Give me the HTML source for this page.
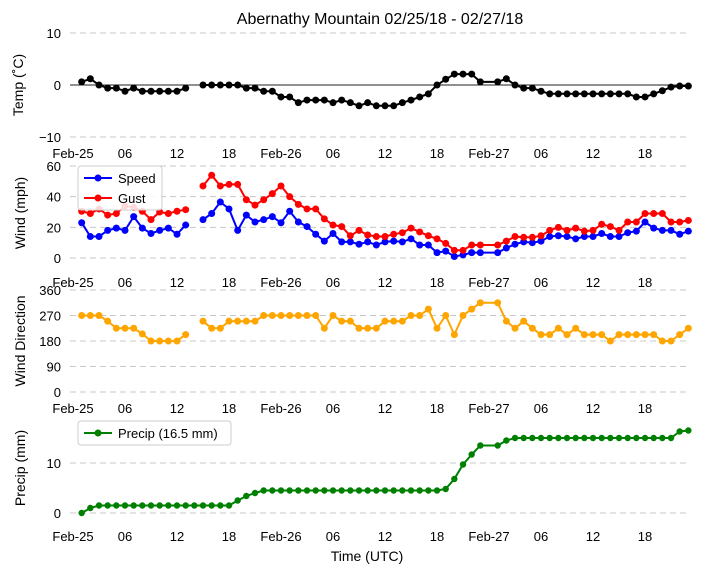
<!DOCTYPE html>
<html><head><meta charset="utf-8"><style>
body{margin:0;background:#fff;}
svg{display:block;font-family:"Liberation Sans","DejaVu Sans",sans-serif;}
</style></head><body>
<svg id="chart" width="704" height="573" viewBox="0 0 704 573" xmlns="http://www.w3.org/2000/svg">
<text x="380" y="24" font-size="16" text-anchor="middle">Abernathy Mountain 02/25/18 - 02/27/18</text>
<text x="367" y="561" font-size="14" text-anchor="middle">Time (UTC)</text>
<text transform="translate(23,85) rotate(-90)" font-size="14" text-anchor="middle">Temp (˚C)</text>
<text transform="translate(25,213) rotate(-90)" font-size="14" text-anchor="middle">Wind (mph)</text>
<text transform="translate(25,341) rotate(-90)" font-size="14" text-anchor="middle">Wind Direction</text>
<text transform="translate(25,468) rotate(-90)" font-size="14" text-anchor="middle">Precip (mm)</text>
<g id="plots"></g>
</svg>
<script>
const hours = [1,2,3,4,5,6,7,8,9,10,11,12,13,14,15,16,17,18,19,20,21,22,23,24,25,26,27,28,29,30,31,32,33,34,35,36,37,38,39,40,41,42,43,44,45,46,47,49,50,51,52,53,54,55,56,57,58,59,60,61,62,63,64,65,66,67,68,69,70,71];
const temp = [0.6,1.2,0,-0.6,-0.6,-1.2,-0.6,-1.2,-1.2,-1.2,-1.2,-1.2,-0.6,null,0,0,0,0,0,-0.6,-0.6,-1.2,-1.2,-2.3,-2.3,-3.4,-2.9,-2.9,-2.9,-3.4,-2.9,-3.4,-4,-3.4,-4,-4,-4,-3.4,-2.9,-2.3,-1.7,0,1.1,2.1,2.1,2.1,0.6,0.6,1.2,0,-0.6,-0.6,-1.2,-1.7,-1.7,-1.7,-1.7,-1.7,-1.7,-1.7,-1.7,-1.7,-1.7,-2.3,-2.3,-1.7,-1.1,-0.4,-0.2,-0.2];
const speed = [23,14,14,18,19.5,18,27,19.5,16,18,19.5,15.5,21.5,null,25,29,36.5,32,18,28,23.5,25,27,23,30.5,23.5,20.5,15.5,11,16,10.5,10.5,9,10.5,8.5,10.5,11,10.5,12.5,8.5,8.5,3.5,4.5,1,2,3.5,3.5,3.5,6.5,9,10.5,10,11,14,14.5,14,12.5,14,14,16,14,14,16.5,17.5,23.5,19.5,18,18,15.5,17.5];
const gust = [30.5,29,32,28,29,34,33,30.5,25,30,29,30.5,31.5,null,47,54,47,48,48,38,34.5,38,42,47,40,35,32,32,25.5,21.5,20.5,14.5,18,15,14,14,15.5,16.5,19.5,17,14.5,12.5,9.5,5,5,8.5,8.5,8.5,11,14,13.5,13.5,14.5,18,20,18,19.5,17.5,18,22,20.5,18,23.5,23.5,29,29,29,23.5,23.5,24.5];
const direction = [270,270,270,250,225,225,225,205,180,180,180,180,202.5,null,250,225,225,250,250,250,250,270,270,270,270,270,270,270,225,270,250,250,225,225,225,250,250,250,270,270,292.5,225,270,202.5,270,292.5,315,315,250,225,250,225,202.5,202.5,225,202.5,225,202.5,202.5,202.5,180,202.5,202.5,202.5,202.5,202.5,180,180,202.5,225];
const precip = [0,1,1.5,1.5,1.5,1.5,1.5,1.5,1.5,1.5,1.5,1.5,1.5,1.5,1.5,1.5,1.5,1.5,2.5,3.4,4,4.5,4.5,4.5,4.5,4.5,4.5,4.5,4.5,4.5,4.5,4.5,4.5,4.5,4.5,4.5,4.5,4.5,4.5,4.5,4.5,4.5,4.8,6.8,9.7,11.7,13.5,13.5,14.5,15,15,15,15,15,15,15,15,15,15,15,15,15,15,15,15,15,15,15,16.3,16.5];
const tickHours = [0,6,12,18,24,30,36,42,48,54,60,66];
const tickLabels = ["Feb-25","06","12","18","Feb-26","06","12","18","Feb-27","06","12","18"];
const tempTicks = [10,0,-10];
const windTicks = [0,20,40,60];
const dirTicks = [0,90,180,270,360];
const precipTicks = [0,10];

const NS = "http://www.w3.org/2000/svg";
const root = document.getElementById('plots');
const X0 = 73, PXH = 8.667, XL = 70, XR = 690;
function xs(h){ return X0 + h*PXH; }
function mk(tag, attrs, parent){
  const e = document.createElementNS(NS, tag);
  for (const k in attrs) e.setAttribute(k, attrs[k]);
  (parent||root).appendChild(e); return e;
}
function panel(name, ticks, yScale, labelY, zeroLine){
  const g = mk('g', {});
  
  
  ticks.forEach(t => {
    const y = yScale(t);
    const solid = zeroLine && t === 0;
    const ln = mk('line', {x1:XL, x2:XR, y1:y, y2:y, stroke: solid ? '#222' : '#c8c8c8', 'stroke-width': 1, 'stroke-dasharray': solid ? 'none' : '6,4'}, g);
    
    
    const tx = mk('text', {x:61, y:y+5, 'font-size':13, 'text-anchor':'end'}, g);
    tx.textContent = String(t).replace('-', '\u2212');
    
    
  });
  tickHours.forEach((h, i) => {
    const tx = mk('text', {x:xs(h), y:labelY, 'font-size':13, 'text-anchor':'middle'}, g);
    tx.textContent = tickLabels[i];
    
    
  });
  return g;
}
function series(g, name, vals, yScale, color, r){
  let d = '', pen = false;
  hours.forEach((h, i) => {
    const v = vals[i];
    if (v === null) { pen = false; return; }
    d += (pen ? 'L' : 'M') + xs(h).toFixed(1) + ',' + yScale(v).toFixed(1);
    pen = true;
  });
  const p = mk('path', {d:d, fill:'none', stroke:color, 'stroke-width':2}, g);
  
  
  hours.forEach((h, i) => {
    const v = vals[i];
    if (v === null) return;
    const c = mk('circle', {cx:xs(h), cy:yScale(v), r:r, fill:color}, g);
    
    
  });
}
function legend(g, x, y, w, entries){
  const box = mk('rect', {x:x, y:y, width:w, height:entries.length*20+4, fill:'#fff', 'fill-opacity':0.85, stroke:'#ccc', rx:3}, g);
  
  
  entries.forEach((e, i) => {
    const cy = y + 12 + i*20;
    const l = mk('line', {x1:x+6, x2:x+34, y1:cy, y2:cy, stroke:e[1], 'stroke-width':2}, g);
    
    
    const c = mk('circle', {cx:x+20, cy:cy, r:3.5, fill:e[1]}, g);
    
    
    const t = mk('text', {x:x+40, y:cy+5, 'font-size':13}, g);
    t.textContent = e[0];
    
    
  });
}
const yT = v => 85 - v*5.2;
const yW = v => 258 - v*1.533;
const yD = v => 392 - v*(102/360);
const yP = v => 513 - v*5.0;

const gT = panel('temp', tempTicks, yT, 158, true);
series(gT, 'temp', temp, yT, '#000000', 3.5);
const gW = panel('wind', windTicks, yW, 287, false);
series(gW, 'speed', speed, yW, '#0000ff', 3.5);
series(gW, 'gust', gust, yW, '#ff0000', 3.5);
legend(gW, 78, 166, 84, [['Speed','#0000ff'],['Gust','#ff0000']]);
const gD = panel('direction', dirTicks, yD, 413, false);
series(gD, 'direction', direction, yD, '#ffa500', 3.5);
const gP = panel('precip', precipTicks, yP, 541, false);
series(gP, 'precip', precip, yP, '#008000', 3.2);
legend(gP, 78, 421, 153, [['Precip (16.5 mm)','#008000']]);
</script>
</body></html>
